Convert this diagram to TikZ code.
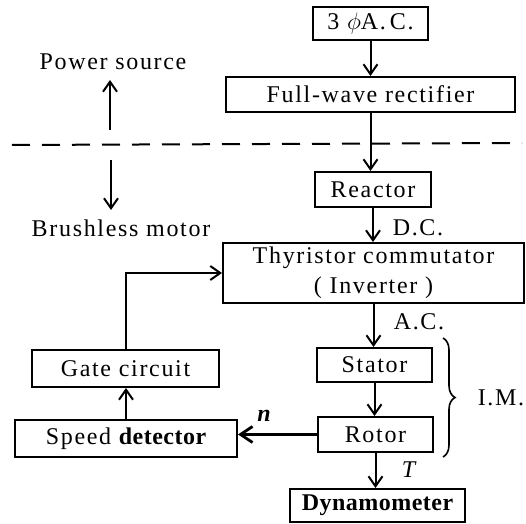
\documentclass[tikz,border=0pt]{standalone}
\usepackage{fontspec}
\setmainfont{Liberation Serif}[LetterSpace=7]
\newcommand{\tightbold}[1]{{\bfseries\addfontfeature{LetterSpace=2}#1}}
\usetikzlibrary{arrows.meta,decorations.pathreplacing}
\begin{document}
\begin{tikzpicture}[x=0.5pt,y=-0.5pt,font=\fontsize{12}{15}\selectfont,
  box/.style={draw,line width=1pt,inner sep=0pt},
  lbl/.style={inner sep=0pt},
  arr/.style={line width=1pt,-{Straight Barb[length=5pt,width=7pt,line width=1pt]}}]
\useasboundingbox (0,0) rectangle (526,524);
% boxes
\node[box,minimum width=57.5pt,minimum height=16.5pt] (ac) at (370.5,23.5) {3 $\phi$A.\,C.};
\node[box,minimum width=144.5pt,minimum height=17.5pt] (rect) at (370.5,94.5) {Full-wave rectifier};
\node[box,minimum width=58pt,minimum height=17.5pt] (reactor) at (373,189.5) {Reactor};
\node[box,minimum width=150.5pt,minimum height=30pt,align=center] (thyr) at (373.5,273) {Thyristor commutator\\( Inverter )};
\node[box,minimum width=57.5pt,minimum height=17pt] (stator) at (374.5,365) {Stator};
\node[box,minimum width=57.5pt,minimum height=17.5pt] (rotor) at (375.5,434.5) {Rotor};
\node[box,minimum width=87.5pt,minimum height=16.5pt] (dyn) at (377.5,505.5) {\tightbold{Dynamometer}};
\node[box,minimum width=93.5pt,minimum height=18.5pt] (gate) at (125.5,368.5) {Gate circuit};
\node[box,minimum width=111pt,minimum height=18.5pt] (speed) at (126,438.5) {Speed \tightbold{detector}};
% connectors
\draw[arr] (ac.south) -- (ac.south |- rect.north);
\draw[arr] (rect.south) -- (rect.south |- reactor.north);
\draw[arr] (reactor.south) -- (reactor.south |- thyr.north);
\draw[arr] (thyr.south) -- (thyr.south |- stator.north);
\draw[arr] (stator.south) -- (stator.south |- rotor.north);
\draw[arr] (rotor.south) -- (rotor.south |- dyn.north);
\draw[arr] (speed.north) -- (speed.north |- gate.south);
\draw[arr] (gate.north) |- (thyr.west);
\draw[line width=1.6pt,-{Straight Barb[length=6pt,width=8pt,line width=1.4pt]}] (rotor.west) -- (rotor.west -| speed.east);
% labels
\node[lbl] (dc) at (418,228) {D.C.};
\node[lbl] (acl) at (419,322) {A.C.};
\node[lbl] (nl) at (265,416) {\textbf{\textit{n}}};
\node[lbl] (tl) at (410,470) {\textit{T}};
\node[lbl] (im) at (501,398) {I.M.};
\draw[line width=0.8pt,decorate,decoration={brace,amplitude=6pt}] (443,338) -- (443,457);
% power source / brushless motor
\node[lbl] (ps) at (113,62) {Power source};
\node[lbl] (bm) at (121,228) {Brushless motor};
\coordinate (up1) at (110,130);
\coordinate (up2) at (110,80);
\coordinate (dn1) at (111,160);
\coordinate (dn2) at (111,210);
\draw[arr] (up1) -- (up2);
\draw[arr] (dn1) -- (dn2);
\coordinate (dl) at (12,145);
\coordinate (dr) at (522,143);
\draw[line width=1pt,dash pattern=on 9pt off 6pt] (dl) -- (dr);
\end{tikzpicture}
\end{document}
